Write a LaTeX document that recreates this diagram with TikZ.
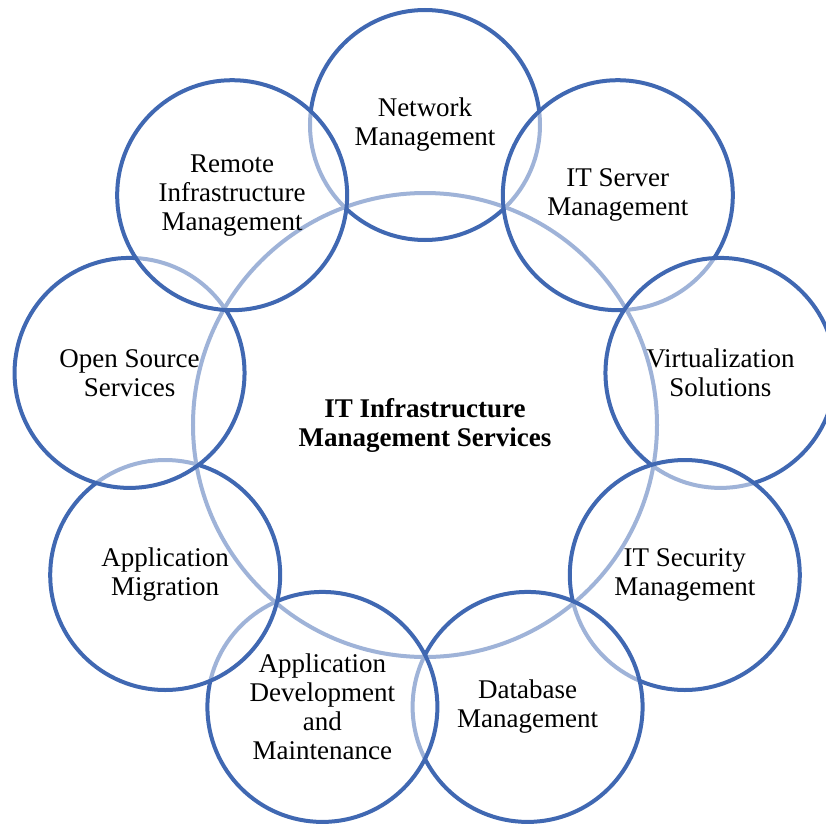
\documentclass[tikz,border=0pt]{standalone}
\usepackage{fontspec}
\setmainfont{Liberation Serif}
\definecolor{ringblue}{RGB}{64,104,178}
\begin{document}
\begin{tikzpicture}[
    x=1pt, y=1pt,
    ring/.style={circle, draw=ringblue, line width=4pt, fill=white,
        fill opacity=0.5, text opacity=1, inner sep=0pt,
        minimum size=230pt, align=center},
    hub/.style={ring, minimum size=464pt,
        font=\fontsize{27}{29}\selectfont\bfseries},
    font=\fontsize{27}{29}\selectfont
]

% Cadre de la figure
\clip (-425,-398) rectangle (401,425);

% Cercle central
\node[hub] (hub) at (0,0) {IT Infrastructure\\Management Services};

% Cercles extérieurs, sens horaire depuis le haut
\node[ring] (network) at (90:300) {Network\\Management};
\node[ring] (server) at (50:300) {IT Server\\Management};
\node[ring] (virtual) at (10:300) {Virtualization\\Solutions};
\node[ring] (security) at (-30:300) {IT Security\\Management};
\node[ring] (database) at (-70:300) {Database\\Management};
\node[ring] (appdev) at (-110:300) {Application\\Development\\and\\Maintenance};
\node[ring] (migration) at (-150:300) {Application\\Migration};
\node[ring] (opensource) at (170:300) {Open Source\\Services};
\node[ring] (remote) at (130:300) {Remote\\Infrastructure\\Management};

\end{tikzpicture}
\end{document}
